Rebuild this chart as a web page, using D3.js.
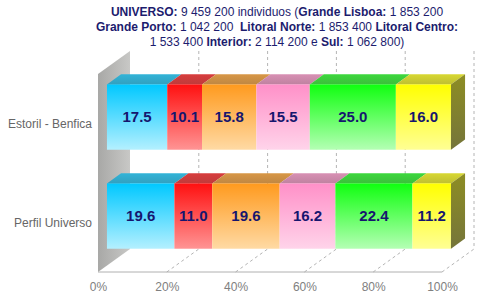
<!DOCTYPE html>
<html>
  <body style="margin:0">
    <style>
      body { font-family: "Liberation Sans", Arial, sans-serif; background: #fff; }
      svg { display: block; }
    </style>
    <script src="https://d3js.org/d3.v7.min.js"></script>
    <script type="text/javascript">
      const width = 486;
      const height = 300;

      const categories = ['Estoril - Benfica', 'Perfil Universo'];
      const seriesNames = ['Grande Lisboa', 'Grande Porto', 'Litoral Norte', 'Litoral Centro', 'Interior', 'Sul'];
      const estorilValues = [17.5, 10.1, 15.8, 15.5, 25.0, 16.0];
      const universoValues = [19.6, 11.0, 19.6, 16.2, 22.4, 11.2];
      const tickValues = [0, 20, 40, 60, 80, 100];

      const topColors = ['#00c8ff', '#ff1010', '#ff9a1e', '#ff90c8', '#10ff10', '#ffff00'];
      const bottomColors = ['#b4f0ff', '#ff9494', '#ffdaa4', '#ffd4ea', '#b4ffb4', '#ffff94'];

      const titleLines = [
        [['UNIVERSO:', true], [' 9 459 200 individuos (', false], ['Grande Lisboa:', true], [' 1 853 200', false]],
        [['Grande Porto:', true], [' 1 042 200  ', false], ['Litoral Norte:', true], [' 1 853 400 ', false], ['Litoral Centro:', true]],
        [['1 533 400 ', false], ['Interior:', true], [' 2 114 200 e ', false], ['Sul:', true], [' 1 062 800)', false]],
      ];

      const rows = categories.map((c, i) => {
        const row = { category: c };
        const vals = i === 0 ? estorilValues : universoValues;
        seriesNames.forEach((s, j) => row[s] = vals[j]);
        return row;
      });

      // front plane of the 3d box and depth vector
      const pLeft = 98, pRight = 442, pTop = 74, pBottom = 272;
      const dx = 32, dy = -23;
      const f1 = 0.28, f2 = 0.72;

      const x = d3.scaleLinear().domain([0, 100]).range([pLeft, pRight]);
      const y = d3.scaleBand().domain(categories).range([pTop, pBottom])
        .paddingInner(0.34).paddingOuter(0.17);

      const stack = d3.stack().keys(seriesNames).offset(d3.stackOffsetExpand);
      const series = stack(rows);

      const svg = d3.select('body').append('svg')
        .attr('width', width).attr('height', height);
      const defs = svg.append('defs');

      topColors.forEach((c, i) => {
        const g = defs.append('linearGradient').attr('id', 'front' + i)
          .attr('x1', 0).attr('y1', 0).attr('x2', 0).attr('y2', 1);
        g.append('stop').attr('offset', '0%').attr('stop-color', c);
        g.append('stop').attr('offset', '100%').attr('stop-color', bottomColors[i]);
        const t = defs.append('linearGradient').attr('id', 'top' + i)
          .attr('x1', 0).attr('y1', 1).attr('x2', 0).attr('y2', 0);
        t.append('stop').attr('offset', '0%').attr('stop-color', d3.interpolateRgb(c, '#707070')(0.45));
        t.append('stop').attr('offset', '100%').attr('stop-color', d3.interpolateRgb(c, '#909090')(0.35));
        const s = defs.append('linearGradient').attr('id', 'side' + i)
          .attr('x1', 0).attr('y1', 0).attr('x2', 0).attr('y2', 1);
        s.append('stop').attr('offset', '0%').attr('stop-color', d3.interpolateRgb(c, '#303040')(0.55));
        s.append('stop').attr('offset', '100%').attr('stop-color', d3.interpolateRgb(c, '#404050')(0.72));
      });

      const wallGrad = defs.append('linearGradient').attr('id', 'wall')
        .attr('x1', 0).attr('y1', 0).attr('x2', 1).attr('y2', 0);
      wallGrad.append('stop').attr('offset', '0%').attr('stop-color', '#a8a8a6');
      wallGrad.append('stop').attr('offset', '100%').attr('stop-color', '#c8c8c6');

      const pts = (arr) => arr.map(p => p.join(',')).join(' ');

      // left wall
      svg.append('polygon')
        .attr('points', pts([[pLeft, pTop], [pLeft + dx, pTop + dy], [pLeft + dx, pBottom + dy], [pLeft, pBottom]]))
        .attr('fill', 'url(#wall)');

      // back wall grid
      svg.append('g').selectAll('line')
        .data(tickValues.slice(1))
        .join('line')
        .attr('x1', d => x(d) + dx).attr('x2', d => x(d) + dx)
        .attr('y1', pTop + dy).attr('y2', pBottom + dy)
        .attr('stroke', '#b4b4b4').attr('stroke-dasharray', '3,3');

      // floor grid
      svg.append('g').selectAll('line')
        .data(tickValues.slice(1))
        .join('line')
        .attr('x1', d => x(d)).attr('x2', d => x(d) + dx)
        .attr('y1', pBottom).attr('y2', pBottom + dy)
        .attr('stroke', '#b4b4b4').attr('stroke-dasharray', '3,3');

      svg.append('line')
        .attr('x1', pLeft).attr('x2', pRight)
        .attr('y1', pBottom).attr('y2', pBottom)
        .attr('stroke', '#b0b0b0');

      // bars
      const ox1 = dx * f1, oy1 = dy * f1;
      const bdx = dx * (f2 - f1), bdy = dy * (f2 - f1);

      series.forEach((s, i) => {
        const g = svg.append('g');
        s.forEach(d => {
          const x0 = x(d[0] * 100) + ox1;
          const x1 = x(d[1] * 100) + ox1;
          const y0 = y(d.data.category) + oy1;
          const h = y.bandwidth();
          g.append('polygon')
            .attr('points', pts([[x0, y0], [x1, y0], [x1 + bdx, y0 + bdy], [x0 + bdx, y0 + bdy]]))
            .attr('fill', `url(#top${i})`);
          g.append('rect')
            .attr('x', x0).attr('y', y0)
            .attr('width', x1 - x0).attr('height', h)
            .attr('fill', `url(#front${i})`);
          if (i === series.length - 1) {
            g.append('polygon')
              .attr('points', pts([[x1, y0], [x1 + bdx, y0 + bdy], [x1 + bdx, y0 + h + bdy], [x1, y0 + h]]))
              .attr('fill', `url(#side${i})`);
          }
          g.append('text')
            .attr('x', (x0 + x1) / 2).attr('y', y0 + h / 2 + 5)
            .attr('text-anchor', 'middle')
            .attr('font-size', 15).attr('font-weight', 'bold')
            .attr('fill', '#16166e')
            .text(d.data[s.key].toFixed(1));
        });
      });

      // x axis
      const axis = svg.append('g')
        .attr('transform', `translate(0, ${pBottom})`)
        .call(d3.axisBottom(x).tickValues(tickValues).tickSize(0).tickPadding(10).tickFormat(d => d + '%'));
      axis.select('.domain').remove();
      axis.selectAll('text')
        .attr('font-family', '"Liberation Sans", Arial, sans-serif')
        .attr('font-size', 12).attr('fill', '#808080');

      // category labels
      svg.append('g').selectAll('text')
        .data(categories)
        .join('text')
        .attr('x', pLeft - 6)
        .attr('y', d => y(d) + y.bandwidth() / 2 + 4)
        .attr('text-anchor', 'end')
        .attr('font-size', 12).attr('fill', '#666666')
        .text(d => d);

      // title
      const title = svg.append('text')
        .attr('text-anchor', 'middle')
        .style('white-space', 'pre')
        .attr('font-size', 12).attr('fill', '#1c1c6e');
      titleLines.forEach((line, i) => {
        const t = title.append('tspan').attr('x', 277).attr('y', 16 + i * 15);
        line.forEach(([txt, bold]) => {
          t.append('tspan').attr('font-weight', bold ? 'bold' : 'normal').text(txt);
        });
      });
    </script>
  </body>
</html>
